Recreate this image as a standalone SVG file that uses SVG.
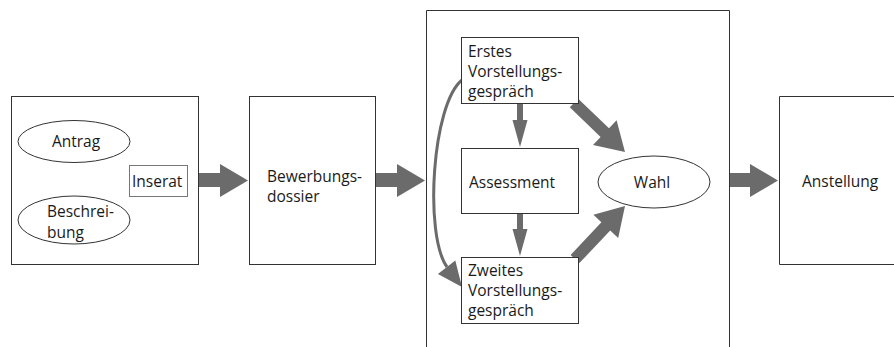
<svg xmlns="http://www.w3.org/2000/svg" width="894" height="347" viewBox="0 0 894 347">
<style>
.box{fill:#fff;stroke:#333;stroke-width:1}
.open{fill:none;stroke:#333;stroke-width:1}
.thin{fill:#fff;stroke:#777;stroke-width:1}
.arr{fill:#6b6b6b;stroke:none}
.curve{fill:none;stroke:#6b6b6b;stroke-width:3}
text{font-family:"Open Sans","Noto Sans",sans-serif;font-size:15.5px;fill:#1a1a1a}
</style>
<rect width="894" height="347" fill="#fff"/>
<g id="antrag-gruppe">
<rect class="box" x="11.5" y="96.5" width="187" height="168"/>
</g>
<g id="antrag">
<ellipse class="box" cx="74" cy="141.5" rx="56" ry="21"/>
<text x="76" y="147" text-anchor="middle">Antrag</text>
</g>
<g id="beschreibung">
<ellipse class="box" cx="74" cy="220" rx="56" ry="24"/>
<text x="47" y="217">Beschrei-</text>
<text x="47" y="238">bung</text>
</g>
<g id="inserat">
<rect class="thin" x="129.5" y="165.5" width="58" height="31"/>
<text x="132" y="187">Inserat</text>
</g>
<g id="bewerbungsdossier">
<rect class="box" x="249.5" y="96.5" width="126" height="168"/>
<text x="267" y="182">Bewerbungs-</text>
<text x="267" y="202">dossier</text>
</g>
<g id="auswahl">
<path class="open" d="M426.5,347 V10.5 H729.5 V347"/>
</g>
<g id="anstellung">
<path class="open" d="M895,96.5 H779.5 V264.5 H895"/>
<text x="802" y="187">Anstellung</text>
</g>
<g id="connectors">
<polygon class="arr" points="199,173 220,173 220,164 248,180.5 220,197 220,187 199,187"/>
<polygon class="arr" points="376,173 397,173 397,164 425,180.5 397,197 397,187 376,187"/>
<polygon class="arr" points="730,173 750,173 750,164 778,180.5 750,197 750,187 730,187"/>
<polygon class="arr" points="517,103 523,103 523,120 527.5,120 520,147 512.5,120 517,120"/>
<polygon class="arr" points="517,213 523,213 523,229 527.5,229 520,256 512.5,229 517,229"/>
<polygon class="arr" points="569.8,107.3 578.2,98.7 609,128.3 616.6,120.3 625,152 593,144.9 600.6,136.9"/>
<polygon class="arr" points="579.4,263.1 570.6,254.9 601.4,222.3 593.4,214.7 625,206 618.2,238.1 610.2,230.5"/>
<path class="curve" d="M462,80 C432,104 424,235 447,267"/>
<polygon class="arr" points="437.9,274.1 455.3,260.5 462,287"/>
</g>
<g id="erstes">
<rect class="box" x="461.5" y="37.5" width="117" height="66"/>
<text x="468" y="57">Erstes</text>
<text x="468" y="77">Vorstellungs-</text>
<text x="468" y="97">gespräch</text>
</g>
<g id="assessment">
<rect class="box" x="461.5" y="148.5" width="117" height="65"/>
<text x="469" y="188">Assessment</text>
</g>
<g id="zweites">
<rect class="box" x="461.5" y="257.5" width="117" height="66"/>
<text x="468" y="276">Zweites</text>
<text x="468" y="296">Vorstellungs-</text>
<text x="468" y="316">gespräch</text>
</g>
<g id="wahl">
<ellipse class="box" cx="654" cy="182" rx="56" ry="26"/>
<text x="652" y="188" text-anchor="middle">Wahl</text>
</g>
</svg>
